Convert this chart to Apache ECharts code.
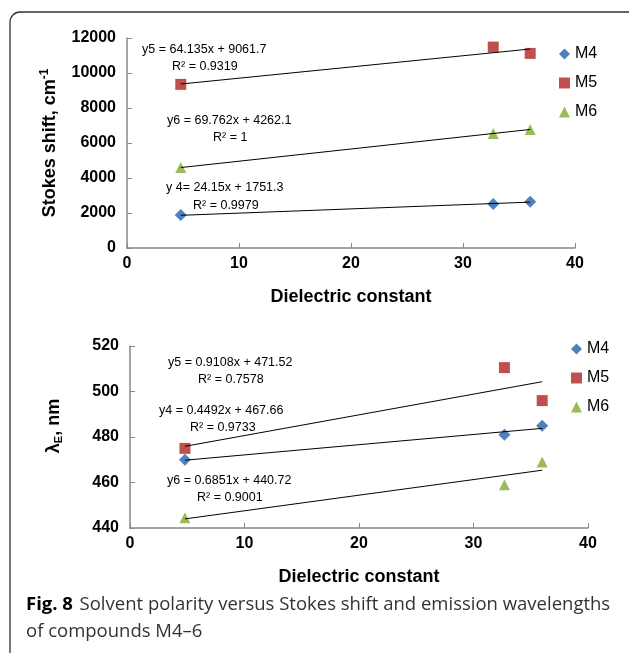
<!DOCTYPE html>
<html>
<head>
<meta charset="utf-8">
<script src="https://cdn.jsdelivr.net/npm/echarts@6/dist/echarts.min.js"></script>
<style>
html,body{margin:0;padding:0;background:#fff;}
#c{width:629px;height:653px;}
</style>
</head>
<body>
<div id="c"></div>
<script>
// ---- data ----
var dielectric = [4.8, 32.7, 36];
var stokesM4 = [1880, 2520, 2640];
var stokesM5 = [9350, 11480, 11120];
var stokesM6 = [4600, 6540, 6770];
var emisM4 = [470, 481, 485];
var emisM5 = [475, 510.5, 496];
var emisM6 = [444.5, 459, 469];
// trend line end points (x = 4.8 and x = 36)
var trendX = [4.8, 36];
var trendStokesM4 = [1867, 2621];
var trendStokesM5 = [9370, 11370];
var trendStokesM6 = [4597, 6774];
var trendEmisM4 = [469.8, 483.8];
var trendEmisM5 = [475.9, 504.3];
var trendEmisM6 = [444.0, 465.4];
var stokesTicks = [0, 2000, 4000, 6000, 8000, 10000, 12000];
var emisTicks = [440, 460, 480, 500, 520];
var xTicks = [0, 10, 20, 30, 40];
var seriesNames = ['M4', 'M5', 'M6'];
var eqTop = [
  ['y5 = 64.135x + 9061.7', 142, 50], ['R\u00b2 = 0.9319', 172, 67],
  ['y6 = 69.762x + 4262.1', 167, 121], ['R\u00b2 = 1', 213, 138],
  ['y 4= 24.15x + 1751.3', 166, 188], ['R\u00b2 = 0.9979', 193, 206]
];
var eqBottom = [
  ['y5 = 0.9108x + 471.52', 168, 363], ['R\u00b2 = 0.7578', 198, 380],
  ['y4 = 0.4492x + 467.66', 159, 411], ['R\u00b2 = 0.9733', 190, 428],
  ['y6 = 0.6851x + 440.72', 167, 481], ['R\u00b2 = 0.9001', 197, 498]
];

// ---- styles ----
var colors = ['#4F81BD', '#C0504D', '#9BBB59'];
var symbols = ['diamond', 'rect', 'triangle'];
var FONT = '"Liberation Sans", Arial, sans-serif';

function zip(xs, ys) { return xs.map(function (x, i) { return [x, ys[i]]; }); }
function plain(v) { return String(v); }

var chart = echarts.init(document.getElementById('c'));

function xAxis(gi) {
  return {
    type: 'value', gridIndex: gi, min: xTicks[0], max: xTicks[xTicks.length - 1], interval: xTicks[1] - xTicks[0],
    name: 'Dielectric constant', nameLocation: 'middle', nameGap: 40,
    nameTextStyle: { fontFamily: FONT, fontWeight: 'bold', fontSize: 18, color: '#000' },
    axisLine: { lineStyle: { color: '#888', width: 1.5 } },
    axisTick: { inside: true, length: 5, lineStyle: { color: '#888' } },
    axisLabel: { fontFamily: FONT, fontWeight: 'bold', fontSize: 16, color: '#000', margin: 8, formatter: plain },
    splitLine: { show: false }
  };
}

var scatterData = [
  [stokesM4, stokesM5, stokesM6],
  [emisM4, emisM5, emisM6]
];
var trendData = [
  [trendStokesM4, trendStokesM5, trendStokesM6],
  [trendEmisM4, trendEmisM5, trendEmisM6]
];

var series = [];
for (var g = 0; g < 2; g++) {
  for (var s = 0; s < 3; s++) {
    series.push({
      type: 'line', xAxisIndex: g, yAxisIndex: g, silent: true,
      data: zip(trendX, trendData[g][s]), showSymbol: false, symbol: 'none',
      lineStyle: { color: '#000', width: 1 }, z: 3
    });
  }
  for (var s2 = 0; s2 < 3; s2++) {
    series.push({
      name: seriesNames[s2], type: 'scatter', xAxisIndex: g, yAxisIndex: g,
      data: zip(dielectric, scatterData[g][s2]),
      symbol: symbols[s2], symbolSize: s2 === 0 ? 12 : 11,
      itemStyle: { color: colors[s2], opacity: 1 }, z: 2
    });
  }
}

var graphics = [
  { type: 'rect', shape: { x: 10, y: 12, width: 680, height: 700, r: 10 },
    style: { fill: 'none', stroke: '#333', lineWidth: 1.3 }, silent: true }
];
eqTop.concat(eqBottom).forEach(function (e) {
  graphics.push({ type: 'text', left: e[1], top: e[2] - 7,
    style: { text: e[0], fontFamily: FONT, fontSize: 12.5, fill: '#000' } });
});
var CAP = '"Open Sans", sans-serif';
graphics.push({ type: 'text', left: 26, top: 595,
  style: { text: '{b|Fig. 8}  {n|Solvent polarity versus Stokes shift and emission wavelengths}',
    rich: { b: { fontFamily: CAP, fontWeight: 'bold', fontSize: 18.5, fill: '#000' },
            n: { fontFamily: CAP, fontSize: 18.5, fill: '#333' } } } });
graphics.push({ type: 'text', left: 26, top: 622,
  style: { text: 'of compounds M4\u20136', fontFamily: CAP, fontSize: 18.5, fill: '#333' } });

chart.setOption({
  animation: false,
  backgroundColor: '#fff',
  grid: [
    { left: 127, right: 54, top: 38, height: 210 },
    { left: 130, right: 41, top: 346, height: 182 }
  ],
  xAxis: [xAxis(0), xAxis(1)],
  yAxis: [
    { type: 'value', gridIndex: 0, min: stokesTicks[0], max: stokesTicks[stokesTicks.length - 1], interval: stokesTicks[1] - stokesTicks[0],
      name: 'Stokes shift, cm{sup|-1}', nameLocation: 'middle', nameGap: 66, nameRotate: 90,
      nameTextStyle: { fontFamily: FONT, fontWeight: 'bold', fontSize: 18, color: '#000',
        rich: { sup: { fontFamily: FONT, fontWeight: 'bold', fontSize: 12, verticalAlign: 'top', padding: [0, 0, 10, 0] } } },
      axisLine: { show: true, lineStyle: { color: '#888', width: 1.5 } },
      axisTick: { show: true, inside: true, length: 5, lineStyle: { color: '#888' } },
      axisLabel: { fontFamily: FONT, fontWeight: 'bold', fontSize: 16, color: '#000', margin: 11, formatter: plain },
      splitLine: { show: false } },
    { type: 'value', gridIndex: 1, min: emisTicks[0], max: emisTicks[emisTicks.length - 1], interval: emisTicks[1] - emisTicks[0],
      name: '\u03bb{sub|E}, nm', nameLocation: 'middle', nameGap: 66, nameRotate: 90,
      nameTextStyle: { fontFamily: FONT, fontWeight: 'bold', fontSize: 18, color: '#000', padding: [0, 0, 0, 22],
        rich: { sub: { fontFamily: FONT, fontWeight: 'bold', fontSize: 11, verticalAlign: 'bottom', padding: [8, 0, 0, 0] } } },
      axisLine: { show: true, lineStyle: { color: '#888', width: 1.5 } },
      axisTick: { show: true, inside: true, length: 5, lineStyle: { color: '#888' } },
      axisLabel: { fontFamily: FONT, fontWeight: 'bold', fontSize: 16, color: '#000', margin: 11, formatter: plain },
      splitLine: { show: false } }
  ],
  legend: [
    { data: seriesNames, orient: 'vertical', left: 554, top: 41, itemGap: 13, itemWidth: 11, itemHeight: 11,
      textStyle: { fontFamily: FONT, fontSize: 16, color: '#000' } },
    { data: seriesNames, orient: 'vertical', left: 566, top: 336, itemGap: 13, itemWidth: 11, itemHeight: 11,
      textStyle: { fontFamily: FONT, fontSize: 16, color: '#000' } }
  ],
  graphic: graphics,
  series: series
});
</script>
</body>
</html>
